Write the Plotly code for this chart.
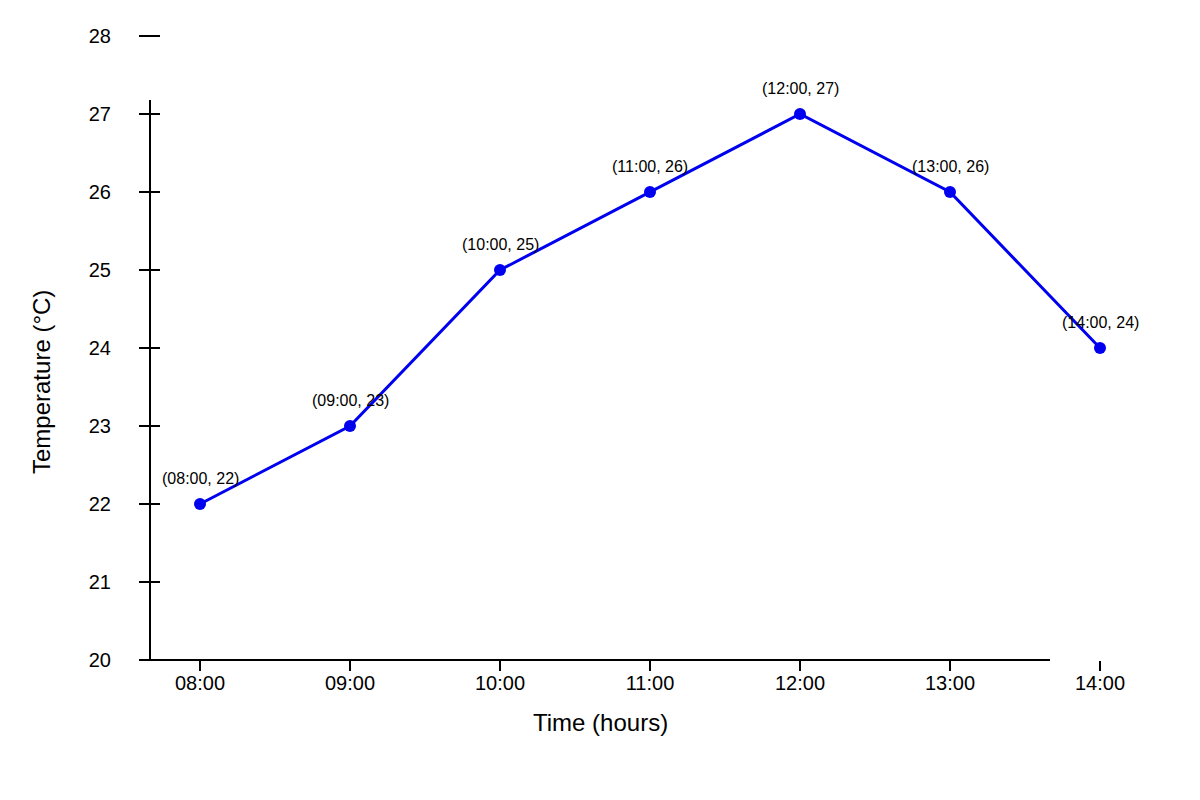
import plotly.graph_objects as go

times = ["08:00", "09:00", "10:00", "11:00", "12:00", "13:00", "14:00"]
temps = [22, 23, 25, 26, 27, 26, 24]
y_ticks = [20, 21, 22, 23, 24, 25, 26, 27, 28]

labels = [f"({t}, {v})" for t, v in zip(times, temps)]
font = "Liberation Sans, Arial, sans-serif"
blue = "#0000f0"

x_range = [-1 / 3, len(times) - 1 + 1 / 3]
y_range = [20, 20 + 630 / 78]

fig = go.Figure()
fig.add_trace(go.Scatter(
    x=times, y=temps,
    mode="lines+markers",
    line=dict(color=blue, width=3),
    marker=dict(color=blue, size=12),
    cliponaxis=False,
    hoverinfo="skip",
))
# invisible copy so the second pair of axes (the long tick marks) gets drawn
fig.add_trace(go.Scatter(
    x=times, y=temps, xaxis="x2", yaxis="y2",
    mode="markers", marker=dict(opacity=0),
    hoverinfo="skip",
))

# point labels
for t, v, lab in zip(times, temps, labels):
    fig.add_annotation(x=t, y=v, text=lab, showarrow=False, yshift=26,
                       xanchor="center", yanchor="middle",
                       font=dict(size=16, color="black"))

fig.update_layout(
    width=1200, height=800,
    margin=dict(l=142, r=58, t=22, b=148),
    paper_bgcolor="white", plot_bgcolor="white",
    showlegend=False,
    font=dict(family=font, color="black"),
    xaxis=dict(
        type="category", categoryorder="array", categoryarray=times,
        range=x_range,
        showgrid=False, zeroline=False, showline=False,
        ticks="outside", ticklen=5, tickwidth=2, tickcolor="black",
        tickfont=dict(size=20),
    ),
    xaxis2=dict(
        type="category", categoryorder="array", categoryarray=times,
        overlaying="x", anchor="y", side="bottom",
        range=x_range, showticklabels=False,
        showgrid=False, zeroline=False, showline=False,
        ticks="outside", ticklen=10, tickwidth=2, tickcolor="black",
    ),
    yaxis=dict(
        range=y_range,
        tickvals=y_ticks,
        showgrid=False, zeroline=False, showline=False,
        ticks="outside", ticklen=10, tickwidth=2, tickcolor="black",
        tickfont=dict(size=20), ticklabelstandoff=24,
    ),
    # ticks crossing the y axis line: 20px long, drawn from 10px right of it
    yaxis2=dict(
        overlaying="y", anchor="free", position=0.01, side="left",
        range=y_range,
        tickvals=y_ticks, showticklabels=False,
        showgrid=False, zeroline=False, showline=False,
        ticks="outside", ticklen=20, tickwidth=2, tickcolor="black",
    ),
)

# axis lines (shorter than the tick span, as in the original)
fig.add_shape(type="line", xref="paper", yref="paper",
              x0=0, x1=0, y0=0, y1=560 / 630,
              line=dict(color="black", width=2))
fig.add_shape(type="line", xref="paper", yref="paper",
              x0=-0.01, x1=0.9, y0=0, y1=0,
              line=dict(color="black", width=2))

fig.add_annotation(text="Time (hours)", xref="paper", yref="paper",
                   x=0.45, y=-62 / 630, showarrow=False,
                   xanchor="center", yanchor="middle",
                   font=dict(size=24))
fig.add_annotation(text="Temperature (°C)", xref="paper", yref="paper",
                   x=-109 / 1000, y=278 / 630, showarrow=False, textangle=-90,
                   xanchor="center", yanchor="middle",
                   font=dict(size=24))

fig.write_html("out.html")
